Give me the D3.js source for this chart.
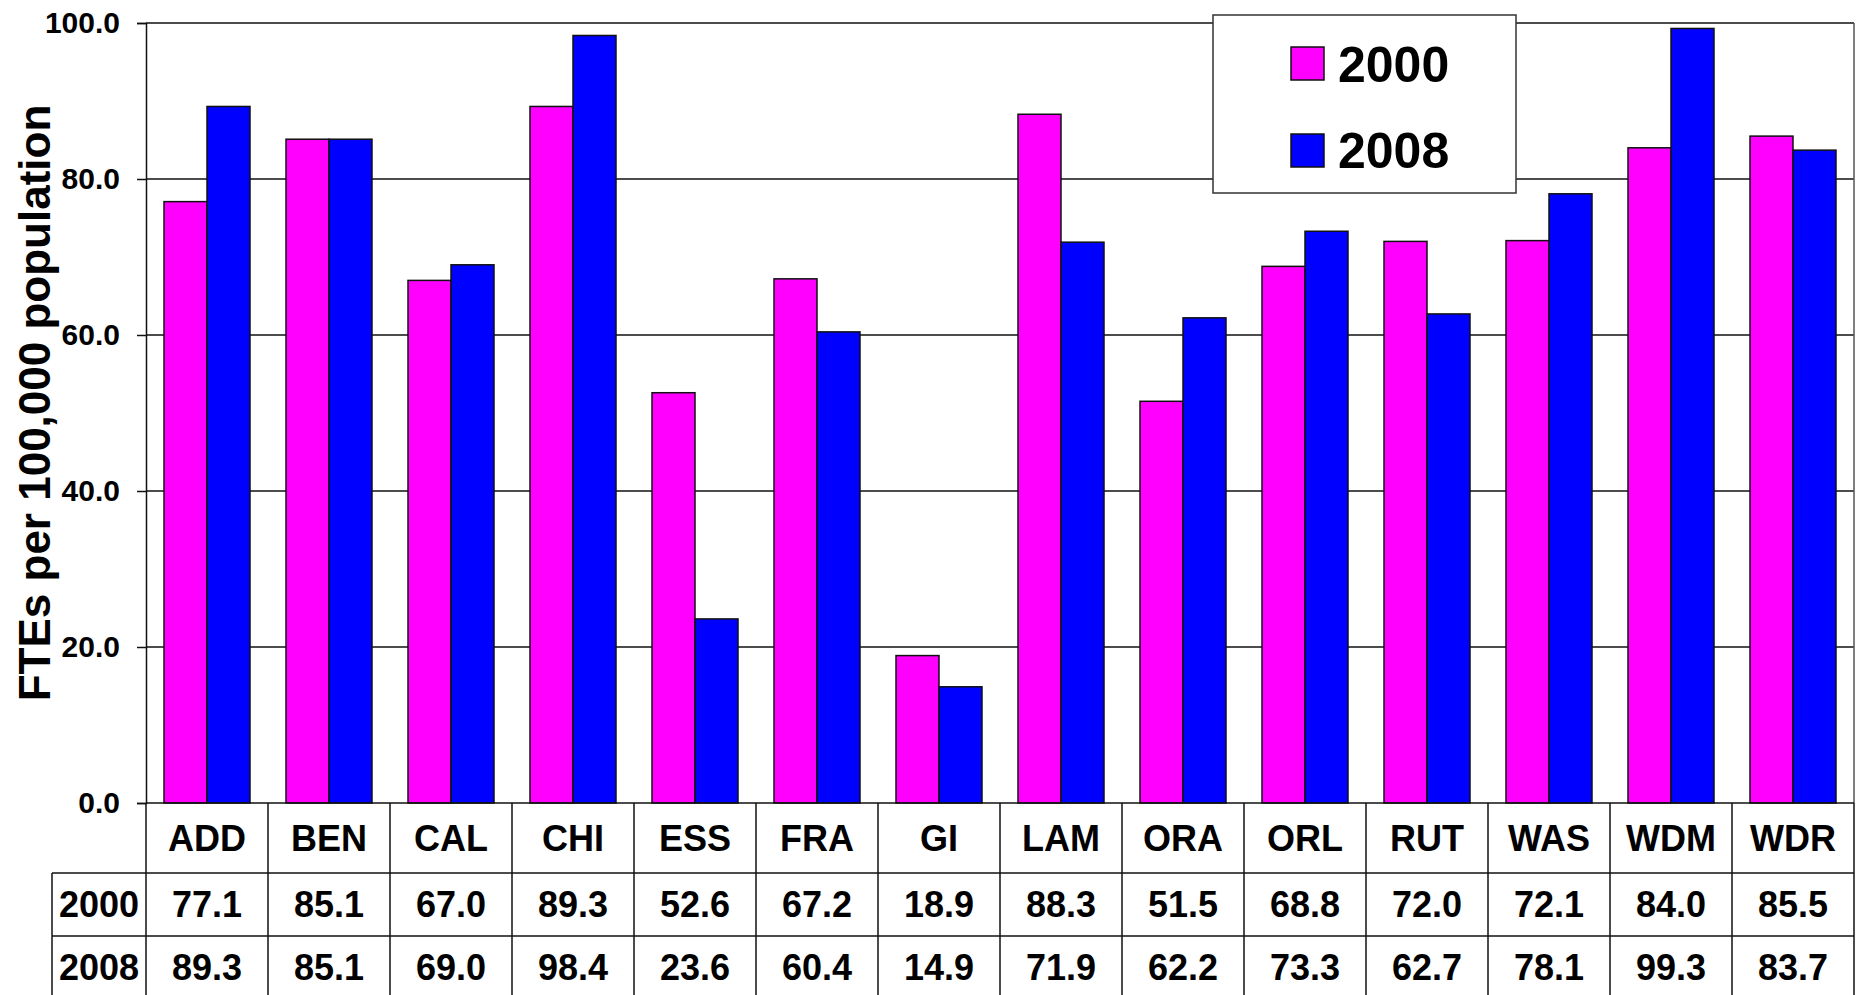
<!DOCTYPE html>
<html>
<head>
<meta charset="utf-8">
<script src="https://cdn.jsdelivr.net/npm/d3@7"></script>
<style>
  html, body { margin: 0; padding: 0; background: #fff; }
  svg { display: block; font-family: Arial, "Liberation Sans", sans-serif; font-weight: bold; }
</style>
</head>
<body>
<div id="chart"></div>
<script>
const categories = ['ADD', 'BEN', 'CAL', 'CHI', 'ESS', 'FRA', 'GI', 'LAM', 'ORA', 'ORL', 'RUT', 'WAS', 'WDM', 'WDR'];
const seriesNames = ['2000', '2008'];
const values2000 = [77.1, 85.1, 67.0, 89.3, 52.6, 67.2, 18.9, 88.3, 51.5, 68.8, 72.0, 72.1, 84.0, 85.5];
const values2008 = [89.3, 85.1, 69.0, 98.4, 23.6, 60.4, 14.9, 71.9, 62.2, 73.3, 62.7, 78.1, 99.3, 83.7];
const yTicks = [0, 20, 40, 60, 80, 100];
const colors = ['#ff00ff', '#0000ff'];

const W = 1858, H = 995;
const plotL = 146, plotR = 1854, plotT = 23, plotB = 803;
const rowH = [70, 63, 63]; // header, 2000, 2008
const stroke = '#111';

const svg = d3.select('#chart').append('svg')
  .attr('width', W)
  .attr('height', H);

const x = d3.scaleBand().domain(categories).range([plotL, plotR]).padding(0);
const xs = d3.scaleBand().domain(seriesNames).range([18, x.bandwidth() - 18]).padding(0);
const y = d3.scaleLinear().domain([0, 100]).range([plotB, plotT]);

// gridlines
svg.append('g')
  .selectAll('line')
  .data(yTicks.filter(d => d > 0))
  .enter()
  .append('line')
  .attr('x1', plotL).attr('x2', plotR)
  .attr('y1', d => y(d)).attr('y2', d => y(d))
  .attr('stroke', stroke).attr('stroke-width', 1.5);

// right border
svg.append('line')
  .attr('x1', plotR).attr('x2', plotR)
  .attr('y1', plotT).attr('y2', plotB)
  .attr('stroke', '#555').attr('stroke-width', 1.5);

// bars
const rows = categories.map((c, i) => ({ cat: c, vals: [values2000[i], values2008[i]] }));
const groups = svg.append('g')
  .selectAll('g')
  .data(rows)
  .enter()
  .append('g')
  .attr('transform', d => `translate(${x(d.cat)},0)`);

groups.selectAll('rect')
  .data(d => d.vals.map((v, j) => ({ key: seriesNames[j], v, j })))
  .enter()
  .append('rect')
  .attr('x', d => xs(d.key))
  .attr('width', xs.bandwidth())
  .attr('y', d => y(d.v))
  .attr('height', d => y(0) - y(d.v))
  .attr('fill', d => colors[d.j])
  .attr('stroke', stroke)
  .attr('stroke-width', 1.5);

// y axis
const yAxis = d3.axisLeft(y)
  .tickValues(yTicks)
  .tickFormat(d3.format('.1f'))
  .tickSize(9)
  .tickPadding(17);

const ax = svg.append('g')
  .attr('transform', `translate(${plotL},0)`)
  .call(yAxis);
ax.select('.domain').attr('stroke', stroke).attr('stroke-width', 1.5);
ax.selectAll('.tick line').attr('stroke', stroke).attr('stroke-width', 1.5);
ax.selectAll('.tick text')
  .attr('fill', '#000')
  .style('font-size', '30px')
  .style('font-weight', 'bold')
  .style('font-family', 'Arial, "Liberation Sans", sans-serif');

// y title
svg.append('text')
  .attr('transform', 'translate(50,403) rotate(-90)')
  .attr('text-anchor', 'middle')
  .style('font-size', '44px')
  .text('FTEs per 100,000 population');

// data table
const tbl = svg.append('g');
const yHead = plotB, yR1 = plotB + rowH[0], yR2 = yR1 + rowH[1], yR3 = yR2 + rowH[2];
const tableL = 52;

// horizontal lines
tbl.append('line').attr('x1', plotL).attr('x2', plotR).attr('y1', yHead).attr('y2', yHead);
tbl.append('line').attr('x1', tableL).attr('x2', plotR).attr('y1', yR1).attr('y2', yR1);
tbl.append('line').attr('x1', tableL).attr('x2', plotR).attr('y1', yR2).attr('y2', yR2);
tbl.append('line').attr('x1', tableL).attr('x2', plotR).attr('y1', yR3).attr('y2', yR3);
// vertical lines
tbl.append('line').attr('x1', tableL).attr('x2', tableL).attr('y1', yR1).attr('y2', yR3);
tbl.selectAll('line.col')
  .data(categories.concat(['__end']))
  .enter()
  .append('line')
  .attr('class', 'col')
  .attr('x1', d => d === '__end' ? plotR : x(d))
  .attr('x2', d => d === '__end' ? plotR : x(d))
  .attr('y1', yHead).attr('y2', yR3);
tbl.selectAll('line').attr('stroke', stroke).attr('stroke-width', 1.5);

const cellText = (sel) => sel
  .attr('text-anchor', 'middle')
  .attr('dy', '0.36em')
  .style('font-size', '36px');

tbl.selectAll('text.head')
  .data(categories)
  .enter()
  .append('text')
  .attr('class', 'head')
  .attr('x', d => x(d) + x.bandwidth() / 2)
  .attr('y', (yHead + yR1) / 2)
  .call(cellText)
  .text(d => d);

[values2000, values2008].forEach((vals, j) => {
  const cy = j === 0 ? (yR1 + yR2) / 2 : (yR2 + yR3) / 2;
  tbl.append('text')
    .attr('x', (tableL + plotL) / 2)
    .attr('y', cy)
    .call(cellText)
    .text(seriesNames[j]);
  tbl.selectAll('text.v' + j)
    .data(vals)
    .enter()
    .append('text')
    .attr('class', 'v' + j)
    .attr('x', (d, i) => x(categories[i]) + x.bandwidth() / 2)
    .attr('y', cy)
    .call(cellText)
    .text(d => d3.format('.1f')(d));
});

// legend
const lg = svg.append('g').attr('transform', 'translate(1213,15)');
lg.append('rect')
  .attr('width', 303).attr('height', 178)
  .attr('fill', '#fff')
  .attr('stroke', '#333').attr('stroke-width', 1.5);
seriesNames.forEach((s, j) => {
  lg.append('rect')
    .attr('x', 78).attr('y', 32 + j * 87)
    .attr('width', 33).attr('height', 33)
    .attr('fill', colors[j])
    .attr('stroke', stroke).attr('stroke-width', 1.5);
  lg.append('text')
    .attr('x', 125).attr('y', 67 + j * 86)
    .style('font-size', '50px')
    .text(s);
});
</script>
</body>
</html>
